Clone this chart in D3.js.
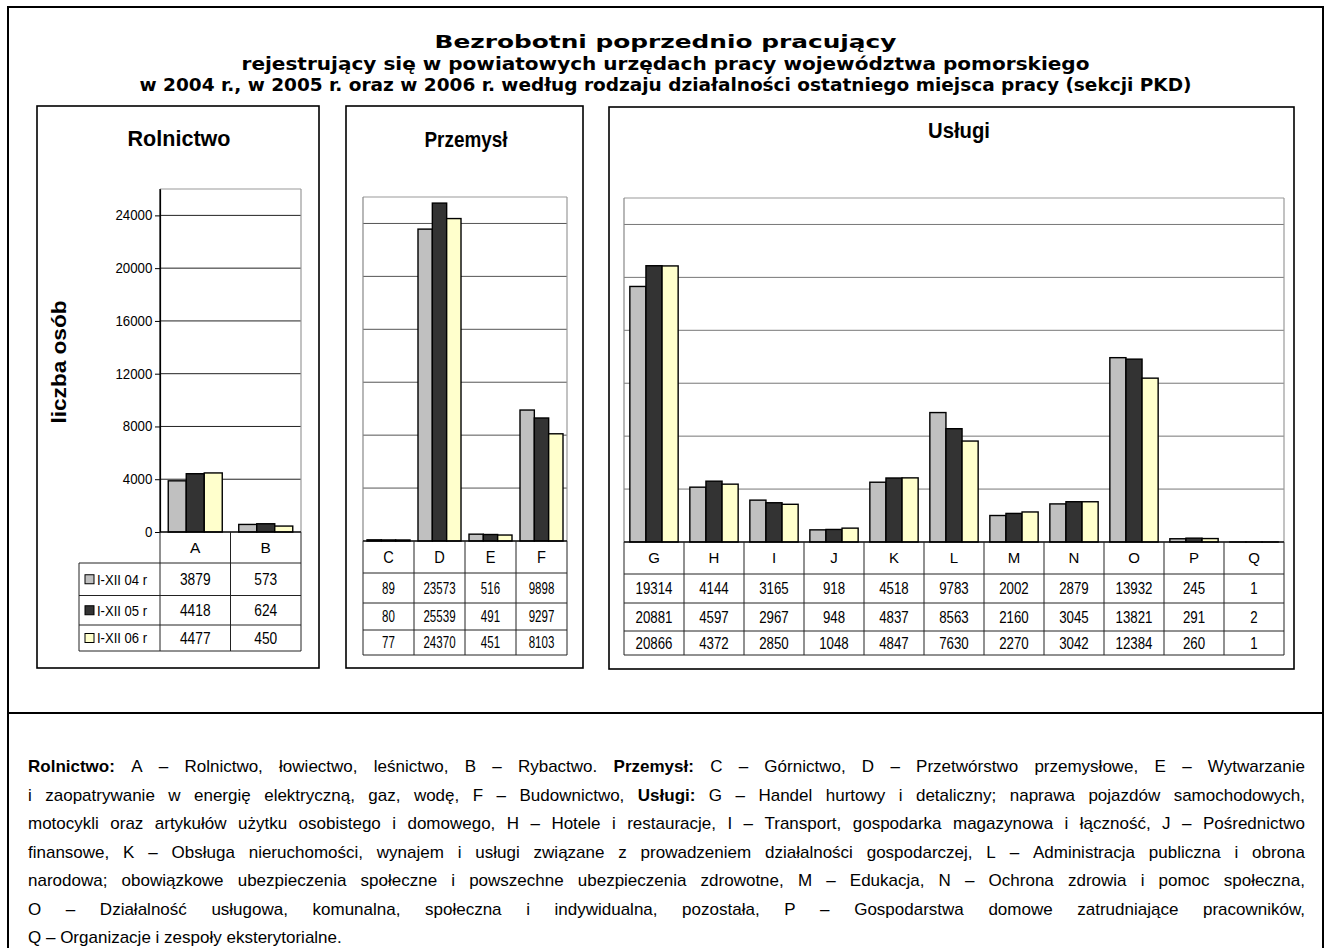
<!DOCTYPE html>
<html><head><meta charset="utf-8">
<script src="https://cdn.jsdelivr.net/npm/d3@7"></script>
<style>body{margin:0;background:#fff}svg{display:block}</style>
</head><body>
<svg id="c" width="1329" height="948"></svg>
<script>
// ---------- DATA ----------
const seriesLabels = ["I-XII 04 r", "I-XII 05 r", "I-XII 06 r"];
const seriesColors = ["#C0C0C0", "#333333", "#FFFFCC"];

const rolCategories = ["A", "B"];
const rol2004 = [3879, 573];
const rol2005 = [4418, 624];
const rol2006 = [4477, 450];

const przCategories = ["C", "D", "E", "F"];
const prz2004 = [89, 23573, 516, 9898];
const prz2005 = [80, 25539, 491, 9297];
const prz2006 = [77, 24370, 451, 8103];

const uslCategories = ["G", "H", "I", "J", "K", "L", "M", "N", "O", "P", "Q"];
const usl2004 = [19314, 4144, 3165, 918, 4518, 9783, 2002, 2879, 13932, 245, 1];
const usl2005 = [20881, 4597, 2967, 948, 4837, 8563, 2160, 3045, 13821, 291, 2];
const usl2006 = [20866, 4372, 2850, 1048, 4847, 7630, 2270, 3042, 12384, 260, 1];

const yTicks = [0, 4000, 8000, 12000, 16000, 20000, 24000];
const yMax = 26000;
const yAxisTitle = "liczba osób";
const panelTitles = ["Rolnictwo", "Przemysł", "Usługi"];
const titleLines = [
  "Bezrobotni poprzednio pracujący",
  "rejestrujący się w powiatowych urzędach pracy województwa pomorskiego",
  "w 2004 r., w 2005 r. oraz w 2006 r. według rodzaju działalności ostatniego miejsca pracy (sekcji PKD)"
];
const footerLines = [
  "**Rolnictwo:** A – Rolnictwo, łowiectwo, leśnictwo, B – Rybactwo. **Przemysł:** C – Górnictwo, D – Przetwórstwo przemysłowe, E – Wytwarzanie",
  "i zaopatrywanie w energię elektryczną, gaz, wodę, F – Budownictwo, **Usługi:** G – Handel hurtowy i detaliczny; naprawa pojazdów samochodowych,",
  "motocykli oraz artykułów użytku osobistego i domowego, H – Hotele i restauracje, I – Transport, gospodarka magazynowa i łączność, J – Pośrednictwo",
  "finansowe, K – Obsługa nieruchomości, wynajem i usługi związane z prowadzeniem działalności gospodarczej, L – Administracja publiczna i obrona",
  "narodowa; obowiązkowe ubezpieczenia społeczne i powszechne ubezpieczenia zdrowotne, M – Edukacja, N – Ochrona zdrowia i pomoc społeczna,",
  "O – Działalność usługowa, komunalna, społeczna i indywidualna, pozostała, P – Gospodarstwa domowe zatrudniające pracowników,",
  "Q – Organizacje i zespoły eksterytorialne."
];

// ---------- LAYOUT ----------
const FONT = "Arial, 'Liberation Sans', Helvetica, sans-serif";
const TFONT = "Tahoma, 'DejaVu Sans Condensed', 'DejaVu Sans', Verdana, sans-serif";
const svg = d3.select("#c");

function txt(parent, x, y, s, o = {}) {
  const t = parent.append("text")
    .attr("transform", `translate(${x},${y})${o.rot ? ` rotate(${o.rot})` : ""} scale(${o.sx || 1},${o.sy || 1})`)
    .attr("text-anchor", o.anchor || "middle")
    .attr("font-family", o.family || FONT)
    .attr("font-size", o.size || 13)
    .attr("font-weight", o.weight || "normal")
    .attr("fill", "#000")
    .text(s);
  if (o.len) t.attr("textLength", o.len).attr("lengthAdjust", "spacingAndGlyphs");
  return t;
}
function line(parent, x1, y1, x2, y2, col, w) {
  parent.append("line").attr("x1", x1).attr("y1", y1).attr("x2", x2).attr("y2", y2)
    .attr("stroke", col).attr("stroke-width", w);
}

// outer frame & divider
svg.append("rect").attr("x", 8).attr("y", 7).attr("width", 1315).attr("height", 960)
  .attr("fill", "none").attr("stroke", "#000").attr("stroke-width", 2);
line(svg, 8, 713, 1323, 713, "#000", 2);

// main title
const titleY = [48, 70, 91];
const titleLen = [462, 848, 1052];
titleLines.forEach((s, i) => txt(svg, 665.5, titleY[i], s, {size: 18, weight: "bold", family: TFONT, len: titleLen[i]}));

// panels
const panels = [
  {cats: rolCategories, vals: [rol2004, rol2005, rol2006], title: panelTitles[0],
   box: [37, 106, 319, 668], plot: [160, 301, 189, 532], rows: [563, 595.5, 625, 651], legendLeft: 79,
   titleX: 179, titleY: 146, titleLen: 103, pad: 0.458, grid: "#222", leftColor: "#000", axis: true,
   catSize: 15.5, catSx: 1, numSize: 16, numSx: 0.86},
  {cats: przCategories, vals: [prz2004, prz2005, prz2006], title: panelTitles[1],
   box: [346, 106, 583, 668], plot: [363, 567, 197, 541], rows: [573, 603, 630, 655],
   titleX: 466, titleY: 147, titleLen: 83, pad: 0.279, grid: "#555", leftColor: "#888",
   catSize: 17, catSx: 0.86, numSize: 16.5, numSx: 0.7},
  {cats: uslCategories, vals: [usl2004, usl2005, usl2006], title: panelTitles[2],
   box: [609, 107, 1294, 669], plot: [624, 1284, 198, 542], rows: [574, 603, 631, 655],
   titleX: 959, titleY: 137.5, titleLen: 62, pad: 0.363, grid: "#777", leftColor: "#888",
   catSize: 15, catSx: 1, numSize: 16, numSx: 0.83}
];

panels.forEach(p => {
  const g = svg.append("g");
  const [bx0, by0, bx1, by1] = p.box;
  g.append("rect").attr("x", bx0).attr("y", by0).attr("width", bx1 - bx0).attr("height", by1 - by0)
    .attr("fill", "#fff").attr("stroke", "#000").attr("stroke-width", 1.6);
  txt(g, p.titleX, p.titleY, p.title, {size: 22, weight: "bold", len: p.titleLen});

  const [L, R, T, B] = p.plot;
  const y = d3.scaleLinear().domain([0, yMax]).range([B, T]);
  const x0 = d3.scaleBand().domain(p.cats).range([L, R]).padding(0);
  const x1 = d3.scaleBand().domain(d3.range(3)).range([0, x0.bandwidth()]).paddingInner(0).paddingOuter(p.pad);

  yTicks.filter(t => t > 0).forEach(t => line(g, L, y(t), R, y(t), p.grid, 1));
  line(g, L, y(yMax), R, y(yMax), "#999", 1.2);
  line(g, R, y(yMax), R, B, "#999", 1.2);
  line(g, L, y(yMax), L, B, p.leftColor, 1.2);

  p.cats.forEach((c, ci) => {
    p.vals.forEach((arr, si) => {
      const v = arr[ci];
      g.append("rect")
        .attr("x", x0(c) + x1(si)).attr("width", x1.bandwidth())
        .attr("y", y(v)).attr("height", Math.max(0, y(0) - y(v)))
        .attr("fill", seriesColors[si]).attr("stroke", "#000").attr("stroke-width", 1.4);
    });
  });
  line(g, L, B, R, B, "#000", 1.6);

  if (p.axis) {
    const ax = g.append("g").attr("transform", `translate(${L},0)`)
      .call(d3.axisLeft(y).tickValues(yTicks).tickSize(5).tickSizeOuter(0).tickPadding(3).tickFormat(d3.format("d")));
    ax.select(".domain").attr("stroke", "#000").attr("stroke-width", 1.2);
    ax.selectAll(".tick line").attr("stroke", "#000");
    ax.selectAll("text").attr("font-family", FONT).attr("font-size", 14).attr("fill", "#000")
      .attr("transform", "scale(0.95,1)");
  }

  const [rc, r1, r2, r3] = p.rows;
  const tl = p.legendLeft || L;
  const tc = "#222";
  line(g, tl, rc, R, rc, tc, 1);
  line(g, tl, r1, R, r1, tc, 1);
  line(g, tl, r2, R, r2, tc, 1);
  line(g, tl, r3, R, r3, tc, 1);
  if (p.legendLeft) line(g, tl, rc, tl, r3, tc, 1);
  p.cats.forEach(c => line(g, x0(c), B, x0(c), r3, tc, 1));
  line(g, R, B, R, r3, tc, 1);

  const rowsY = [B, rc, r1, r2, r3];
  p.cats.forEach((c, ci) => {
    const cx = x0(c) + x0.bandwidth() / 2;
    txt(g, cx, (B + rc) / 2 + p.catSize * 0.36, c, {size: p.catSize, sx: p.catSx});
    p.vals.forEach((arr, si) => {
      const cy = (rowsY[si + 1] + rowsY[si + 2]) / 2;
      txt(g, cx, cy + p.numSize * 0.36, String(arr[ci]), {size: p.numSize, sx: p.numSx});
    });
  });

  if (p.legendLeft) {
    seriesLabels.forEach((s, si) => {
      const cy = (rowsY[si + 1] + rowsY[si + 2]) / 2;
      g.append("rect").attr("x", tl + 6).attr("y", cy - 4.5).attr("width", 9).attr("height", 9)
        .attr("fill", seriesColors[si]).attr("stroke", "#000").attr("stroke-width", 1);
      txt(g, tl + 18, cy + 5.4, s, {size: 15, sx: 0.87, anchor: "start"});
    });
  }
});

txt(svg, 66, 362, yAxisTitle, {size: 21, weight: "bold", rot: -90, len: 123});

// ---------- FOOTER (justified) ----------
const FS = 17;
const fx0 = 28, fx1 = 1305;
const tmp = svg.append("text").attr("font-family", FONT).attr("font-size", FS).attr("x", -1000).attr("y", -1000);
function meas(s, b) { tmp.attr("font-weight", b ? "bold" : "normal").text(s); return tmp.node().getComputedTextLength(); }
const footG = svg.append("g");
footerLines.forEach((ln, i) => {
  const words = ln.split(" ").map(w => ({t: w.replace(/\*\*/g, ""), b: w.startsWith("**")}));
  words.forEach(w => w.w = meas(w.t, w.b));
  const tot = d3.sum(words, w => w.w);
  const last = i === footerLines.length - 1;
  const gap = last ? FS * 0.278 : (fx1 - fx0 - tot) / (words.length - 1);
  const t = footG.append("text").attr("font-family", FONT).attr("font-size", FS).attr("y", 772 + i * 28.5).attr("fill", "#000");
  let x = fx0;
  words.forEach(w => {
    t.append("tspan").attr("x", x).attr("font-weight", w.b ? "bold" : "normal").text(w.t);
    x += w.w + gap;
  });
});
tmp.remove();
</script>
</body></html>
